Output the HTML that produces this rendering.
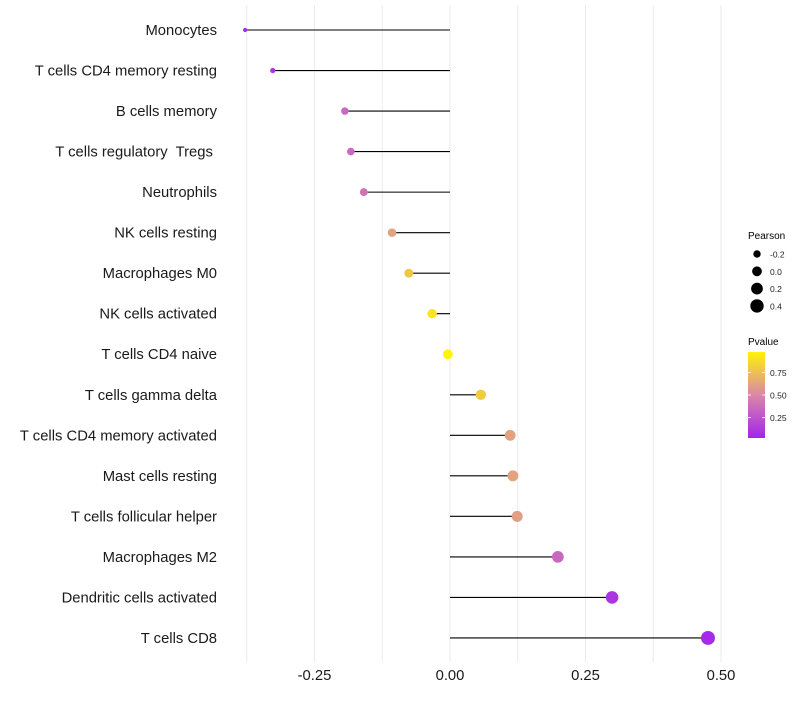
<!DOCTYPE html>
<html><head><meta charset="utf-8"><style>
body{margin:0;background:#fff;font-family:"Liberation Sans",sans-serif}
text{white-space:pre}
</style></head><body>
<svg id="c" width="800" height="700" xmlns="http://www.w3.org/2000/svg"></svg>
<script>
const categories=["Monocytes","T cells CD4 memory resting","B cells memory","T cells regulatory  Tregs ","Neutrophils","NK cells resting","Macrophages M0","NK cells activated","T cells CD4 naive","T cells gamma delta","T cells CD4 memory activated","Mast cells resting","T cells follicular helper","Macrophages M2","Dendritic cells activated","T cells CD8"];
const pearson=[-0.378,-0.327,-0.194,-0.183,-0.159,-0.107,-0.076,-0.033,-0.004,0.057,0.111,0.116,0.124,0.199,0.299,0.476];
const pvalue=[0.05,0.1,0.35,0.35,0.4,0.62,0.78,0.92,0.99,0.8,0.62,0.62,0.6,0.35,0.1,0.05];
const xTicks=[-0.25,0,0.25,0.5];
const xTickLabels=["-0.25","0.00","0.25","0.50"];
const gridVals=[-0.375,-0.25,-0.125,0,0.125,0.25,0.375,0.5];
const sizeLegend=[-0.2,0,0.2,0.4];
const colorTicks=[0.25,0.5,0.75];
const NS="http://www.w3.org/2000/svg";
const svg=document.getElementById('c');
const x=v=>450+v*542;
const y=i=>30+i*40.53;
const r=v=>Math.sqrt(Math.max(1.5,24+52*v));
function mix(a,b,t){return a.map((c,i)=>Math.round(c+(b[i]-c)*t));}
function col(p){const lo=[160,32,240],mid=[218,136,168],hi=[255,247,0];
 const c=p<0.5?mix(lo,mid,p/0.5):mix(mid,hi,(p-0.5)/0.5);return `rgb(${c})`;}
function el(t,a,txt){const e=document.createElementNS(NS,t);for(const k in a)e.setAttribute(k,a[k]);if(txt!==undefined)e.textContent=txt;svg.appendChild(e);return e;}
gridVals.forEach(g=>{const e=el('line',{x1:x(g),x2:x(g),y1:5,y2:662,stroke:'#ebebeb','stroke-width':1});

});
categories.forEach((c,i)=>{
 const t=el('text',{x:217,y:y(i)+5,'text-anchor':'end','font-size':14.8,fill:'#1a1a1a'},c);
 
 
 const l=el('line',{x1:x(0),x2:x(pearson[i]),y1:y(i),y2:y(i),stroke:'#000','stroke-width':1.1});
 
 
 const p=el('circle',{cx:x(pearson[i]),cy:y(i),r:r(pearson[i]),fill:col(pvalue[i])});
 
 
});
xTicks.forEach((v,i)=>{const t=el('text',{x:x(v),y:680,'text-anchor':'middle','font-size':14.8,fill:'#1a1a1a'},xTickLabels[i]);

});
const lt=el('text',{x:748,y:239,'font-size':10,fill:'#000'},'Pearson');


sizeLegend.forEach((v,i)=>{const cy=254+i*17.3;
 const c=el('circle',{cx:757,cy:cy,r:r(v),fill:'#000'});
 
 
 const t=el('text',{x:770,y:cy+3.5,'font-size':8.5,fill:'#222'},v.toFixed(1));
 
 });
const pt=el('text',{x:748,y:345,'font-size':10,fill:'#000'},'Pvalue');


const defs=el('defs',{});
const lg=document.createElementNS(NS,'linearGradient');lg.setAttribute('id','g');lg.setAttribute('x1','0');lg.setAttribute('y1','1');lg.setAttribute('x2','0');lg.setAttribute('y2','0');
for(let k=0;k<=10;k++){const s=document.createElementNS(NS,'stop');s.setAttribute('offset',k/10);s.setAttribute('stop-color',col(0.02+k/10*0.96));lg.appendChild(s);}
defs.appendChild(lg);
const bar=el('rect',{x:748,y:352,width:17,height:86,fill:'url(#g)'});


const cy=v=>438-(v-0.02)/0.96*86;
colorTicks.forEach(v=>{
 el('line',{x1:748,x2:751,y1:cy(v),y2:cy(v),stroke:'#fff','stroke-width':0.8});
 el('line',{x1:762,x2:765,y1:cy(v),y2:cy(v),stroke:'#fff','stroke-width':0.8});
 const t=el('text',{x:770,y:cy(v)+3.5,'font-size':8.5,fill:'#222'},v.toFixed(2));
 
 });
</script>
</body></html>
